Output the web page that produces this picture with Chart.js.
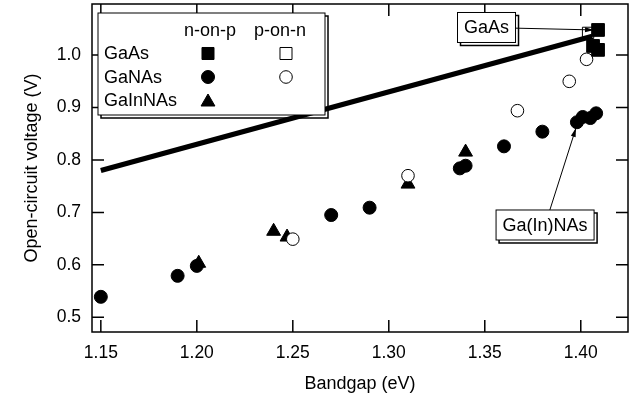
<!DOCTYPE html>
<html>
<head>
<meta charset="utf-8">
<script src="https://cdn.jsdelivr.net/npm/chart.js@4.4.1/dist/chart.umd.min.js"></script>
<style>
  html, body { margin: 0; padding: 0; background: #fff; }
</style>
</head>
<body>
<canvas id="chart" width="633" height="400"></canvas>
<script>
// Voc vs bandgap for GaAs / GaNAs / GaInNAs cells
const xTicks = [1.15, 1.20, 1.25, 1.30, 1.35, 1.40];
const yTicks = [0.5, 0.6, 0.7, 0.8, 0.9, 1.0];

const gaasNX = [1.409, 1.4064, 1.409];
const gaasNY = [1.048, 1.0175, 1.010];
const gaasPX = [1.4038];
const gaasPY = [1.0424];

const ganasNX = [1.15, 1.19, 1.20, 1.27, 1.29, 1.337, 1.340, 1.36, 1.38, 1.398, 1.401, 1.405, 1.408];
const ganasNY = [0.539, 0.579, 0.598, 0.695, 0.709, 0.784, 0.789, 0.826, 0.854, 0.872, 0.882, 0.880, 0.889];
const ganasPX = [1.25, 1.31, 1.367, 1.394, 1.403];
const ganasPY = [0.649, 0.770, 0.894, 0.950, 0.992];

const gainnasX = [1.201, 1.240, 1.247, 1.310, 1.340];
const gainnasY = [0.603, 0.664, 0.653, 0.754, 0.815];

// thick reference line
const limitX = [1.15, 1.406];
const limitY = [0.78, 1.036];

const FONT = 'Liberation Sans, Arial, sans-serif';

const pts = (xs, ys) => xs.map((x, i) => ({ x, y: ys[i] }));

// legend grid: rows x columns (n-on-p, p-on-n)
const legendRows = ['GaAs', 'GaNAs', 'GaInNAs'];
const legendCols = ['n-on-p', 'p-on-n'];

const notes = [
  { text: 'GaAs', x: 1.3509, y: 1.0527, tipX: 1.4069, tipY: 1.048 },
  { text: 'Ga(In)NAs', x: 1.3814, y: 0.676, tipX: 1.3975, tipY: 0.861 }
];

const datasets = [
  { label: 'limit', type: 'line', data: pts(limitX, limitY), borderColor: '#000', borderWidth: 5,
    pointRadius: 0, fill: false, borderCapStyle: 'butt' },
  { label: 'GaAs n-on-p', data: pts(gaasNX, gaasNY), pointStyle: 'rect', pointRadius: 9,
    backgroundColor: '#000', borderColor: '#000', borderWidth: 1, row: 0, col: 0 },
  { label: 'GaAs p-on-n', data: pts(gaasPX, gaasPY), pointStyle: 'rect', pointRadius: 8,
    backgroundColor: '#fff', borderColor: '#000', borderWidth: 1, row: 0, col: 1 },
  { label: 'GaNAs n-on-p', data: pts(ganasNX, ganasNY), pointStyle: 'circle', pointRadius: 6.5,
    backgroundColor: '#000', borderColor: '#000', borderWidth: 1, row: 1, col: 0 },
  { label: 'GaNAs p-on-n', data: pts(ganasPX, ganasPY), pointStyle: 'circle', pointRadius: 6.3,
    backgroundColor: '#fff', borderColor: '#000', borderWidth: 1, row: 1, col: 1 },
  { label: 'GaInNAs n-on-p', data: pts(gainnasX, gainnasY), pointStyle: 'triangle', pointRadius: 8,
    backgroundColor: '#000', borderColor: '#000', borderWidth: 1, row: 2, col: 0 }
];

function shadowBox(ctx, x, y, w, h) {
  ctx.save();
  ctx.strokeStyle = '#000';
  ctx.lineWidth = 1.5;
  ctx.strokeRect(x + 3, y + 3, w, h);
  ctx.fillStyle = '#fff';
  ctx.fillRect(x, y, w, h);
  ctx.lineWidth = 1;
  ctx.strokeRect(x, y, w, h);
  ctx.restore();
}

const framePlugin = {
  id: 'frame',
  afterDatasetsDraw(chart) {
    const { ctx, chartArea: a, scales: { x, y } } = chart;
    const tl = 12;
    ctx.save();
    ctx.strokeStyle = '#000';
    ctx.lineWidth = 1.5;
    ctx.strokeRect(a.left, a.top, a.right - a.left, a.bottom - a.top);
    ctx.beginPath();
    xTicks.forEach(v => {
      const px = x.getPixelForValue(v);
      ctx.moveTo(px, a.bottom); ctx.lineTo(px, a.bottom - tl);
      ctx.moveTo(px, a.top); ctx.lineTo(px, a.top + tl);
    });
    yTicks.forEach(v => {
      const py = y.getPixelForValue(v);
      ctx.moveTo(a.left, py); ctx.lineTo(a.left + tl, py);
      ctx.moveTo(a.right, py); ctx.lineTo(a.right - tl, py);
    });
    ctx.stroke();
    ctx.restore();
  }
};

const legendPlugin = {
  id: 'gridLegend',
  afterDatasetsDraw(chart) {
    const { ctx, chartArea: a } = chart;
    const bx = a.left + 6, by = a.top + 9, bw = 227, bh = 102;
    shadowBox(ctx, bx, by, bw, bh);
    const colX = [bx + 110, bx + 188];
    const rowY = [by + 40.5, by + 64, by + 87];
    ctx.save();
    ctx.fillStyle = '#000';
    ctx.font = '18px ' + FONT;
    ctx.textBaseline = 'middle';
    ctx.textAlign = 'center';
    legendCols.forEach((c, i) => ctx.fillText(c, colX[i] + (i ? -6 : 2), by + 18));
    ctx.textAlign = 'left';
    legendRows.forEach((r, i) => ctx.fillText(r, bx + 6, rowY[i] + 1));
    chart.data.datasets.forEach(ds => {
      if (ds.row === undefined) return;
      ctx.fillStyle = ds.backgroundColor;
      ctx.strokeStyle = ds.borderColor;
      ctx.lineWidth = ds.borderWidth;
      const r = ds.pointStyle === 'rect' ? 8.5 : ds.pointRadius;
      Chart.helpers.drawPoint(ctx, { pointStyle: ds.pointStyle, radius: r, rotation: 0, borderWidth: 1 },
        colX[ds.col], rowY[ds.row] + (ds.pointStyle === 'triangle' ? 2 : 0));
    });
    ctx.restore();
  }
};

const notePlugin = {
  id: 'notes',
  afterDatasetsDraw(chart) {
    const { ctx, scales: { x, y } } = chart;
    ctx.save();
    ctx.font = '18px ' + FONT;
    notes.forEach(n => {
      const cx = x.getPixelForValue(n.x), cy = y.getPixelForValue(n.y);
      const tx = x.getPixelForValue(n.tipX), ty = y.getPixelForValue(n.tipY);
      const w = ctx.measureText(n.text).width + 13, h = 30;
      const l = cx - w / 2, t = cy - h / 2;
      // start of the arrow on the box edge
      const dx = tx - cx, dy = ty - cy;
      const s = Math.min(Math.abs((w / 2) / (dx || 1e-9)), Math.abs((h / 2) / (dy || 1e-9)));
      const sx = cx + dx * s, sy = cy + dy * s;
      ctx.strokeStyle = '#000';
      ctx.lineWidth = 1;
      ctx.beginPath();
      ctx.moveTo(sx, sy);
      ctx.lineTo(tx, ty);
      ctx.stroke();
      const ang = Math.atan2(ty - sy, tx - sx);
      ctx.fillStyle = '#000';
      ctx.beginPath();
      ctx.moveTo(tx, ty);
      ctx.lineTo(tx - 9 * Math.cos(ang) + 2.5 * Math.sin(ang), ty - 9 * Math.sin(ang) - 2.5 * Math.cos(ang));
      ctx.lineTo(tx - 9 * Math.cos(ang) - 2.5 * Math.sin(ang), ty - 9 * Math.sin(ang) + 2.5 * Math.cos(ang));
      ctx.closePath();
      ctx.fill();
      shadowBox(ctx, l, t, w, h);
      ctx.fillStyle = '#000';
      ctx.textAlign = 'center';
      ctx.textBaseline = 'middle';
      ctx.fillText(n.text, cx, cy + 1);
    });
    ctx.restore();
  }
};

new Chart(document.getElementById('chart'), {
  type: 'scatter',
  data: { datasets },
  options: {
    responsive: false,
    animation: false,
    devicePixelRatio: 1,
    layout: { autoPadding: false, padding: { left: 0, right: 5, top: 4, bottom: 0 } },
    plugins: { legend: { display: false }, tooltip: { enabled: false } },
    scales: {
      x: {
        type: 'linear', min: 1.1454, max: 1.4246,
        afterBuildTicks: s => { s.ticks = xTicks.map(v => ({ value: v })); },
        afterFit: s => { s.height = 68; s.paddingLeft = 0; s.paddingRight = 0; },
        grid: { display: false, drawTicks: false },
        border: { display: false },
        ticks: { color: '#000', font: { family: FONT, size: 17.5 }, padding: 11, maxRotation: 0,
          autoSkip: false, callback: v => v.toFixed(2) },
        title: { display: true, text: 'Bandgap (eV)', color: '#000',
          font: { family: FONT, size: 18 }, padding: { top: 0, bottom: 5 } }
      },
      y: {
        type: 'linear', min: 0.4719, max: 1.0975,
        afterBuildTicks: s => { s.ticks = yTicks.map(v => ({ value: v })); },
        afterFit: s => { s.width = 92; s.paddingTop = 0; s.paddingBottom = 0; },
        grid: { display: false, drawTicks: false },
        border: { display: false },
        ticks: { color: '#000', font: { family: FONT, size: 17.5 }, padding: 11,
          callback: v => v.toFixed(1) },
        title: { display: true, text: 'Open-circuit voltage (V)', color: '#000',
          font: { family: FONT, size: 18 }, padding: { top: 21, bottom: 0 } }
      }
    }
  },
  plugins: [framePlugin, legendPlugin, notePlugin]
});
</script>
</body>
</html>
